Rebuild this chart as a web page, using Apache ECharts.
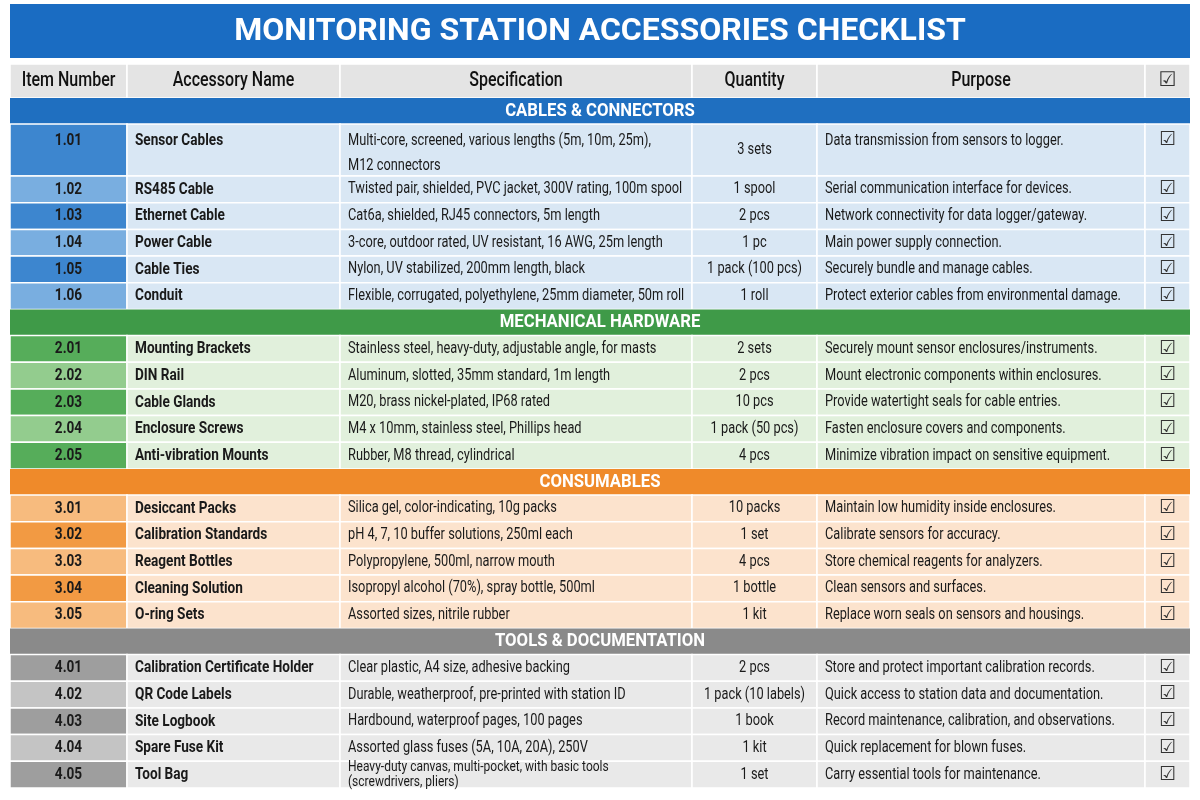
<!DOCTYPE html>
<html>
<head>
<meta charset="utf-8">
<script src="https://cdn.jsdelivr.net/npm/echarts@6/dist/echarts.min.js"></script>
<style>html,body{margin:0;padding:0;background:#fff}#main{width:1200px;height:800px}</style>
</head>
<body>
<div id="main"></div>
<script>
// table data
var headers = ['Item Number', 'Accessory Name', 'Specification', 'Quantity', 'Purpose', '☑']
var sectionNames = ['CABLES & CONNECTORS', 'MECHANICAL HARDWARE', 'CONSUMABLES', 'TOOLS & DOCUMENTATION']
var itemNumbers = ['1.01','1.02','1.03','1.04','1.05','1.06','2.01','2.02','2.03','2.04','2.05','3.01','3.02','3.03','3.04','3.05','4.01','4.02','4.03','4.04','4.05']
var sectionOf = [0,0,0,0,0,0,1,1,1,1,1,2,2,2,2,2,3,3,3,3,3]
var names = ['Sensor Cables','RS485 Cable','Ethernet Cable','Power Cable','Cable Ties','Conduit',
  'Mounting Brackets','DIN Rail','Cable Glands','Enclosure Screws','Anti-vibration Mounts',
  'Desiccant Packs','Calibration Standards','Reagent Bottles','Cleaning Solution','O-ring Sets',
  'Calibration Certificate Holder','QR Code Labels','Site Logbook','Spare Fuse Kit','Tool Bag']
var specs = ['Multi-core, screened, various lengths (5m, 10m, 25m),\nM12 connectors',
  'Twisted pair, shielded, PVC jacket, 300V rating, 100m spool',
  'Cat6a, shielded, RJ45 connectors, 5m length',
  '3-core, outdoor rated, UV resistant, 16 AWG, 25m length',
  'Nylon, UV stabilized, 200mm length, black',
  'Flexible, corrugated, polyethylene, 25mm diameter, 50m roll',
  'Stainless steel, heavy-duty, adjustable angle, for masts',
  'Aluminum, slotted, 35mm standard, 1m length',
  'M20, brass nickel-plated, IP68 rated',
  'M4 x 10mm, stainless steel, Phillips head',
  'Rubber, M8 thread, cylindrical',
  'Silica gel, color-indicating, 10g packs',
  'pH 4, 7, 10 buffer solutions, 250ml each',
  'Polypropylene, 500ml, narrow mouth',
  'Isopropyl alcohol (70%), spray bottle, 500ml',
  'Assorted sizes, nitrile rubber',
  'Clear plastic, A4 size, adhesive backing',
  'Durable, weatherproof, pre-printed with station ID',
  'Hardbound, waterproof pages, 100 pages',
  'Assorted glass fuses (5A, 10A, 20A), 250V',
  'Heavy-duty canvas, multi-pocket, with basic tools\n(screwdrivers, pliers)']
var quantities = ['3 sets','1 spool','2 pcs','1 pc','1 pack (100 pcs)','1 roll',
  '2 sets','2 pcs','10 pcs','1 pack (50 pcs)','4 pcs',
  '10 packs','1 set','4 pcs','1 bottle','1 kit',
  '2 pcs','1 pack (10 labels)','1 book','1 kit','1 set']
var purposes = ['Data transmission from sensors to logger.',
  'Serial communication interface for devices.',
  'Network connectivity for data logger/gateway.',
  'Main power supply connection.',
  'Securely bundle and manage cables.',
  'Protect exterior cables from environmental damage.',
  'Securely mount sensor enclosures/instruments.',
  'Mount electronic components within enclosures.',
  'Provide watertight seals for cable entries.',
  'Fasten enclosure covers and components.',
  'Minimize vibration impact on sensitive equipment.',
  'Maintain low humidity inside enclosures.',
  'Calibrate sensors for accuracy.',
  'Store chemical reagents for analyzers.',
  'Clean sensors and surfaces.',
  'Replace worn seals on sensors and housings.',
  'Store and protect important calibration records.',
  'Quick access to station data and documentation.',
  'Record maintenance, calibration, and observations.',
  'Quick replacement for blown fuses.',
  'Carry essential tools for maintenance.']

// layout
var colEdges = [10, 127, 340, 692, 817, 1145, 1190]
var colAlign = ['center', 'left', 'left', 'center', 'left', 'center']
var sectionColors = ['#1f6fc0', '#3f9a48', '#ef8a2a', '#8a8a8a']
var itemDark = ['#3d86cf', '#56ad5a', '#f29a43', '#9e9e9e']
var itemLight = ['#79aee0', '#93cc8e', '#f7bb7e', '#c4c4c4']
var rowColors = ['#d9e7f4', '#e1f0dc', '#fce3cd', '#e9e9e9']
var FONT = 'Roboto, sans-serif'
var SQ = 0.8 // horizontal squeeze to mimic the condensed face

// build rows: header, section headers, items
var rows = [{ kind: 'header', h: 34 }]
var prev = -1
itemNumbers.forEach(function (n, i) {
  if (sectionOf[i] !== prev) { rows.push({ kind: 'section', s: sectionOf[i], h: 26 }); prev = sectionOf[i] }
  rows.push({ kind: 'item', i: i, s: sectionOf[i], h: (i === 0 ? 52 : 26.7) })
})
var y = 64
rows.forEach(function (r) { r.y0 = y; y += r.h; r.y1 = y })

var chart = echarts.init(document.getElementById('main'))

function renderItem(params, api) {
  var r = rows[api.value(0)]
  var kids = []
  function pt(x, yy) { return api.coord([x, yy]) }
  var top = pt(0, r.y0)[1], bot = pt(0, r.y1)[1]
  if (r.kind === 'section') {
    var a = pt(colEdges[0], r.y0), b = pt(colEdges[6], r.y1)
    var cx = (a[0] + b[0]) / 2
    kids.push({ type: 'rect', shape: { x: a[0], y: top, width: b[0] - a[0], height: bot - top }, style: { fill: sectionColors[r.s] } })
    kids.push({ type: 'text', x: cx, scaleX: 0.88, style: { x: 0, y: (top + bot) / 2, text: sectionNames[r.s], fill: '#fff', font: 'bold 19px ' + FONT, align: 'center', verticalAlign: 'middle' } })
    return { type: 'group', children: kids }
  }
  for (var c = 0; c < 6; c++) {
    var x0 = pt(colEdges[c], 0)[0], x1 = pt(colEdges[c + 1], 0)[0]
    var fill, text, font = '16px ' + FONT, color = '#1a1a1a', sq = SQ
    if (r.kind === 'header') {
      fill = '#e4e4e4'; text = headers[c]; font = '500 20px ' + FONT; color = '#111'
      if (c === 5) { font = '20px "DejaVu Sans"'; color = '#333'; sq = 1 }
    } else {
      var i = r.i
      fill = c === 0 ? ((i % 2 === 0) ? itemDark[r.s] : itemLight[r.s]) : rowColors[r.s]
      text = [itemNumbers[i], names[i], specs[i], quantities[i], purposes[i], '☑'][c]
      if (c <= 1) font = 'bold 17px ' + FONT
      if (c === 5) { font = '19px "DejaVu Sans"'; color = '#333'; sq = 1 }
    }
    kids.push({ type: 'rect', shape: { x: x0, y: top, width: x1 - x0, height: bot - top }, style: { fill: fill, stroke: '#ffffff', lineWidth: 1.5 } })
    var align = r.kind === 'header' ? 'center' : colAlign[c]
    var tx = align === 'center' ? (x0 + x1) / 2 : x0 + 8
    var ty = (top + bot) / 2, va = 'middle'
    if (r.kind === 'item' && r.i === 0 && c !== 3) { ty = top + 4; va = 'top' }
    if (r.kind === 'item' && r.i === 20 && c === 2) { font = '15px ' + FONT }
    kids.push({ type: 'text', x: tx, scaleX: sq, style: { x: 0, y: ty, text: text, fill: color, font: font, align: align, verticalAlign: va, lineHeight: (r.kind === 'item' && r.i === 0) ? 25 : 15 } })
  }
  return { type: 'group', children: kids }
}

chart.setOption({
  animation: false,
  title: {
    text: 'MONITORING STATION ACCESSORIES CHECKLIST', left: 'center', top: 11,
    textStyle: { color: '#fff', fontSize: 32, fontWeight: 'bold', fontFamily: 'Roboto, sans-serif' }
  },
  graphic: [{ type: 'rect', z: -1, shape: { x: 10, y: 4, width: 1180, height: 54 }, style: { fill: '#1a6cc2' } }],
  grid: { left: 0, right: 0, top: 0, bottom: 0 },
  xAxis: { type: 'value', min: 0, max: 1200, show: false },
  yAxis: { type: 'value', min: 0, max: 800, inverse: true, show: false },
  series: [{
    type: 'custom',
    renderItem: renderItem,
    data: rows.map(function (r, k) { return [k] }),
    silent: true
  }]
})
</script>
</body>
</html>
